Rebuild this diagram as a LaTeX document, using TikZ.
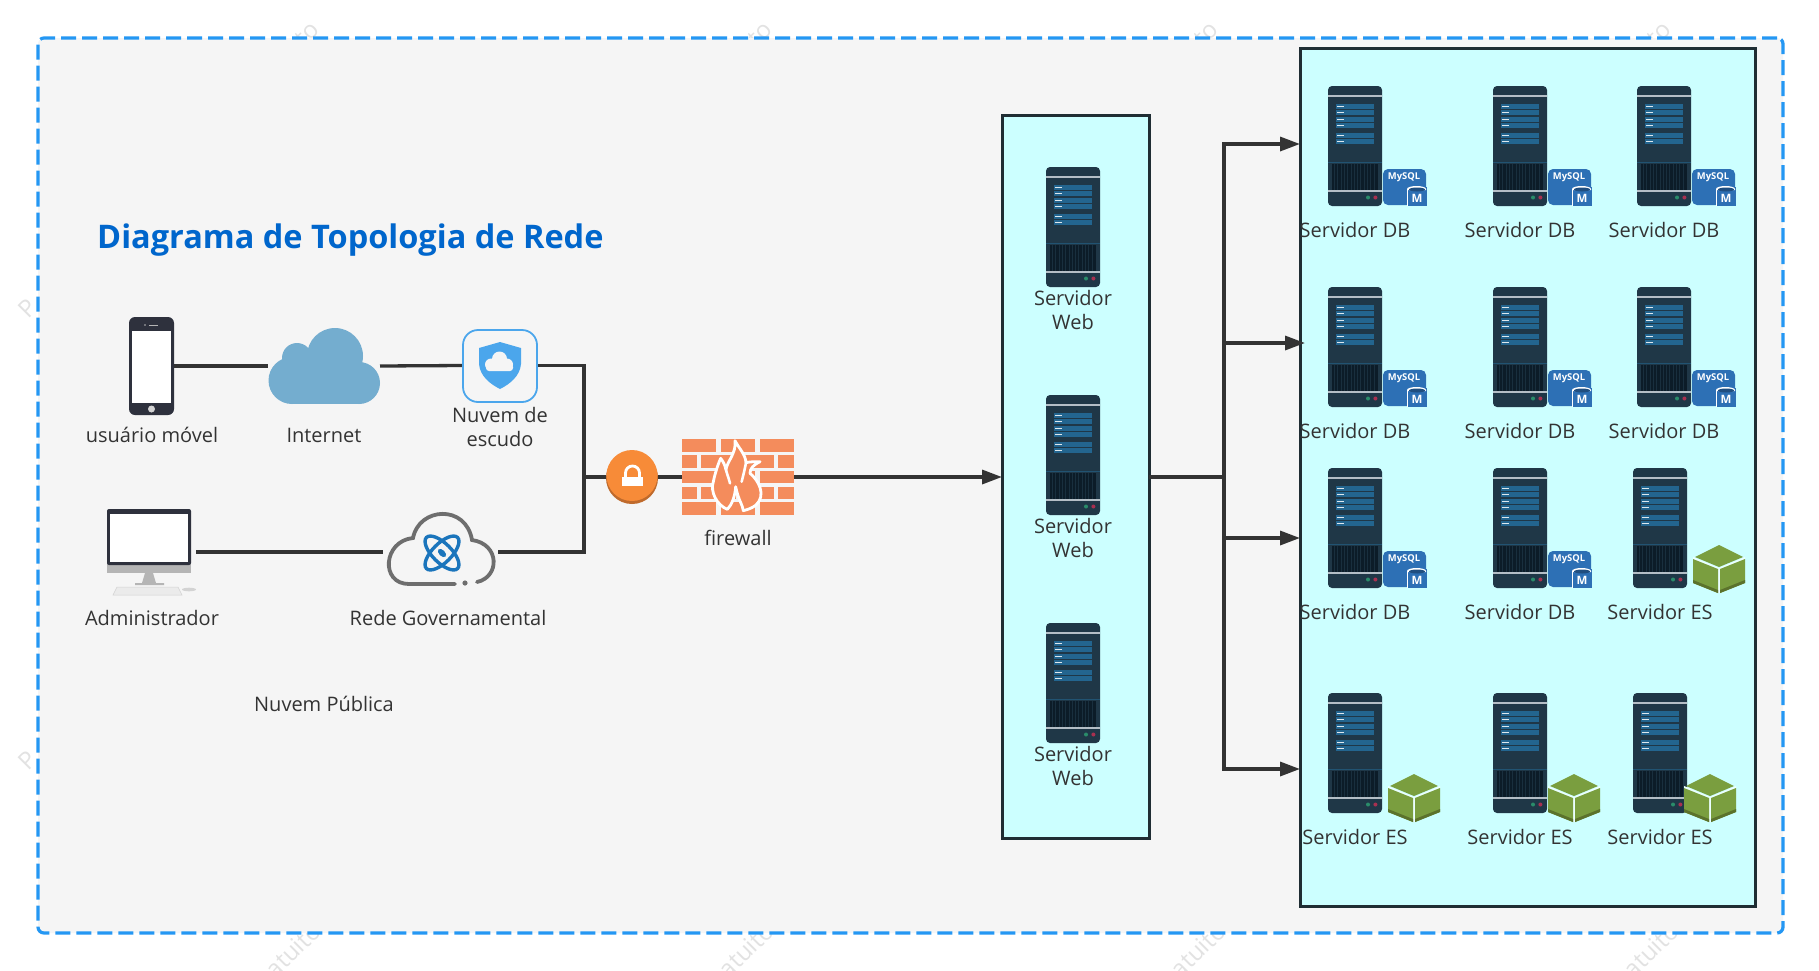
\documentclass[tikz,border=0pt]{standalone}
\usepackage{fontspec}
\setmainfont{Open Sans}
\usetikzlibrary{arrows.meta,calc}
\definecolor{txt}{HTML}{333333}
\definecolor{linec}{HTML}{333333}
\definecolor{panel}{HTML}{F5F5F5}
\definecolor{dashb}{HTML}{2497F3}
\definecolor{aqua}{HTML}{CCFFFF}
\definecolor{boxb}{HTML}{1F2D33}
\definecolor{srv}{HTML}{1F3747}
\definecolor{srvrow}{HTML}{23658F}
\definecolor{srvline}{HTML}{B4BEC6}
\definecolor{srvvent}{HTML}{0C1C28}
\definecolor{mysqlb}{HTML}{2D70B5}
\definecolor{cubeg}{HTML}{7A9E3F}
\definecolor{cubed}{HTML}{5B722C}
\definecolor{sky}{HTML}{74ADCF}
\definecolor{shieldb}{HTML}{4BA6EC}
\definecolor{devdark}{HTML}{2E313D}
\definecolor{devgrey}{HTML}{B5B5B5}
\definecolor{brick}{HTML}{F48C5C}
\definecolor{lockor}{HTML}{F78B38}
\definecolor{lockdk}{HTML}{BF6A2C}
\definecolor{atom}{HTML}{1B75BC}
\definecolor{cloudg}{HTML}{6E6E6E}
\definecolor{titleb}{HTML}{0066CC}
\definecolor{wmark}{HTML}{E2E2E2}
\definecolor{ledg}{HTML}{2A8C6A}
\definecolor{ledr}{HTML}{A83050}
\tikzset{
  x=1pt,y=-1pt,
  lab/.style={font=\fontsize{20}{24}\selectfont,text=txt,inner sep=0pt,align=center},
  wm/.style={font=\fontsize{24}{26}\selectfont,text=wmark,inner sep=0pt,rotate=45},
  conn/.style={draw=linec,line width=3.3pt},
  arrowc/.style={conn,-{Triangle[length=20pt,width=14pt,fill=linec]}},
  spot/.style={inner sep=0pt,outer sep=0pt,minimum width=#1},
  panelbox/.style={draw=boxb,fill=aqua,line width=3pt,inner sep=0pt,outer sep=0pt},
  panelwhite/.style={color=white!60!aqua},
  serverpic/.pic={
    \fill[srv,rounded corners=4pt] (0,0) rectangle (54,120);
    \draw[srvline,line width=1.4pt] (0,10) -- (54,10);
    \foreach \yy in {18,24,31,37,47,53}{
      \fill[srvrow] (8,\yy) rectangle (46,\yy+4.6);
      \draw[white!85!srvrow,line width=1pt] (9,\yy+2.3) -- (16,\yy+2.3);
    }
    \draw[srvrow!60!srv,line width=1pt] (0,76) -- (54,76);
    \fill[srvvent] (4,78) rectangle (50,104);
    \foreach \xx in {6.5,9.8,...,49}{\draw[srv!70!srvvent,line width=.9pt] (\xx,78) -- (\xx,104);}
    \draw[srvline,line width=1.4pt] (0,105) -- (54,105);
    \fill[ledg] (40,111.5) circle (2pt);
    \fill[ledr] (47.4,111.5) circle (2pt);
  },
  mysqlpic/.pic={
    \fill[mysqlb,rounded corners=5pt] (0,0) rectangle (43,36);
    \node[font=\bfseries\fontsize{9.4}{10}\selectfont,text=white,inner sep=0pt] at (21,8) {MySQL};
    \fill[mysqlb] (24,17.5) rectangle (44,37);
    \fill[white] (24,20) rectangle (25,37);
    \fill[white] (24,20) arc[start angle=180,end angle=0,x radius=9.5pt,y radius=3pt] -- (43,21) -- (24,21) -- cycle;
    \fill[mysqlb!70!black] (34,20.5) ellipse[x radius=8pt,y radius=2pt];
    \node[font=\bfseries\fontsize{11.5}{12}\selectfont,text=white,inner sep=0pt] at (34,29.5) {M};
  },
  cubepic/.pic={
    \fill[cubeg] (2,12) -- (26,0) -- (50,12) -- (26,22) -- cycle;
    \fill[panelwhite] (0,12) -- (26,23) -- (52,12) -- (52,15) -- (27,25) -- (27,48) -- (25,48) -- (25,25) -- (0,15) -- cycle;
    \fill[cubeg] (0,14) -- (25,24) -- (25,48) -- (0,38) -- cycle;
    \fill[cubeg] (52,14) -- (27,24) -- (27,48) -- (52,38) -- cycle;
    \fill[cubed] (0,35) -- (25,45) -- (25,48) -- (0,38) -- cycle;
    \fill[cubed] (52,35) -- (27,45) -- (27,48) -- (52,38) -- cycle;
  },
}
\newcommand{\dbserver}[4]{% name, x, y, label
  \pic at (#2,#3) {serverpic};
  \pic at (#2+55,#3+83) {mysqlpic};
  \node[lab] (#1) at (#2+27,#3+144) {#4};
}
\begin{document}
\begin{tikzpicture}
\useasboundingbox (0,0) rectangle (1819,970);
\fill[white] (0,0) rectangle (1819,970);
% watermark fragments, partly hidden by the panel
\node[wm] (wa) at (28,308) {P};
\node[wm] (wb) at (28,760) {P};
\node[wm] (wc) at (307,34) {to};
\node[wm] (wd) at (760,34) {to};
\node[wm] (we) at (1206,34) {to};
\node[wm] (wf) at (1659,34) {to};
\node[wm] (wg) at (293,950) {atuito};
\node[wm] (wh) at (746,950) {atuito};
\node[wm] (wi) at (1198,950) {atuito};
\node[wm] (wj) at (1651,950) {atuito};
% outer dashed region
\node[spot=1745pt,minimum height=895pt,draw=dashb,fill=panel,line width=3.2pt,dash pattern=on 15pt off 6pt,rounded corners=6pt,anchor=north west] (cloudzone) at (38,38) {};
% title
\node[font=\bfseries\fontsize{32.5}{36}\selectfont,text=titleb,inner sep=0pt,anchor=west] (title) at (97,240) {Diagrama de Topologia de Rede};
% panels
\node[panelbox,minimum width=147pt,minimum height=723pt,anchor=north west] (webzone) at (1002,115.5) {};
\node[panelbox,minimum width=455pt,minimum height=858pt,anchor=north west] (dbzone) at (1300,48) {};
% anchors for device nodes
\node[spot=45pt,minimum height=98pt] (phone) at (151.5,366) {};
\node[spot=112pt,minimum height=76pt] (inet) at (324,366) {};
\node[spot=76pt,minimum height=74pt] (shield) at (500,365.5) {};
\node[spot=89pt,minimum height=90pt] (admin) at (151.5,552) {};
\node[spot=115pt,minimum height=74pt] (gov) at (440.5,552) {};
\node[spot=52pt,minimum height=52pt] (lock) at (632,477) {};
\node[spot=112pt,minimum height=76pt] (fire) at (738,477) {};
\coordinate (busA) at (584,365.5);
\coordinate (busB) at (584,552);
\coordinate (busC) at (584,477);
\coordinate (trunk) at (1224,477);
\coordinate (t1) at (1300,144);
\coordinate (t2) at (1305,343);
\coordinate (t3) at (1300,538);
\coordinate (t4) at (1300,769);
% connectors
\draw[conn] (phone.east) -- (inet.west);
\draw[conn] (inet.east) -- (shield.west);
\draw[conn,line join=miter] (shield.east) -- (busA) -- (busB) -- (gov.east);
\draw[conn] (admin.east) -- (gov.west);
\draw[conn,line width=4pt] (busC) -- (lock.west);
\draw[conn,line width=4pt] (lock.east) -- (fire.west);
\draw[arrowc] (fire.east) -- (webzone.west);
\draw[arrowc] (webzone.east) -- (trunk) |- (t1);
\draw[arrowc] (webzone.east) -- (trunk) |- (t2);
\draw[arrowc] (webzone.east) -- (trunk) |- (t3);
\draw[arrowc] (webzone.east) -- (trunk) |- (t4);
\draw[conn,line width=4.2pt] (webzone.east) -- (trunk);
% phone
\fill[devdark,rounded corners=6pt] (129,317) rectangle (174,415);
\fill[white] (132,331) rectangle (171,403);
\fill[devgrey!60!white] (151.5,409) circle (3.5pt);
\draw[devgrey,line width=1pt] (149,325) -- (158,325);
\fill[devgrey] (145,325) circle (.8pt);
% internet cloud
\fill[sky] (292,380.5) circle (23.5pt) (359,383) circle (21pt) (335,356) circle (28pt) (297,358) circle (15pt);
\fill[sky] (292,372) rectangle (359,404);
\fill[sky] (300,355) rectangle (360,380);
% shield box
\draw[shieldb,fill=panel,line width=1.8pt,rounded corners=15pt] (463,330) rectangle (537,402);
\fill[shieldb] (500,342) -- (521,348) -- (521,364) .. controls (520,376) and (510,384) .. (500,389) .. controls (490,384) and (480,376) .. (479,364) -- (479,348) -- cycle;
\fill[panel] (491,364.5) circle (6pt) (499.5,359) circle (7.5pt) (507,364.5) circle (6pt);
\fill[panel,rounded corners=3pt] (486,364) rectangle (513,371);
% admin
\fill[devgrey] (107,560) rectangle (191,573);
\fill[devdark,rounded corners=2pt] (107,509) rectangle (191,565);
\fill[white] (110,514) rectangle (188,562);
\fill[devgrey] (145,573) -- (153,573) -- (156,583) -- (164,583) -- (164,585) -- (135,585) -- (135,583) -- (142,583) -- cycle;
\fill[white!92!black,draw=devgrey!60!white,line width=.5pt] (117,587) -- (178,587) -- (182,595) -- (113,595) -- cycle;
\fill[devgrey!60!white] (189,589.5) ellipse[x radius=7pt,y radius=1.8pt];
% gov cloud
\draw[cloudg,line width=3.8pt,line cap=round] (455,584) -- (409,584) .. controls (380,584) and (383,541) .. (413,538) .. controls (419,507) and (466,504) .. (472,540) .. controls (500,544) and (500,577) .. (477,582);
\fill[cloudg] (465,583) circle (2.6pt);
\begin{scope}[shift={(442,553)}]
  \draw[atom,line width=3.4pt,rotate=45] (0,0) ellipse[x radius=22pt,y radius=9.5pt];
  \draw[atom,line width=3.4pt,rotate=-45] (0,0) ellipse[x radius=22pt,y radius=9.5pt];
  \fill[atom,rotate=-45] (0,0) ellipse[x radius=5pt,y radius=3pt];
\end{scope}
% lock
\fill[lockdk] (632,478) circle (26pt);
\fill[lockor] (632,475.5) circle (25.5pt);
\fill[white] (622,477) rectangle (643,486);
\draw[white,line width=2.8pt] (625.5,478) -- (625.5,473) arc[start angle=180,end angle=0,radius=7pt] -- (639.5,478);
% firewall
\begin{scope}[shift={(570,420)},x=1pt/3,y=-1pt/3]
  \foreach \ya/\yb in {57/95,152/190,247/285}{
    \fill[brick] (336,\ya) rectangle (438,\yb);
    \fill[brick] (453,\ya) rectangle (555,\yb);
    \fill[brick] (570,\ya) rectangle (672,\yb);
  }
  \foreach \ya/\yb in {105/143,200/237}{
    \fill[brick] (336,\ya) rectangle (382,\yb);
    \fill[brick] (394,\ya) rectangle (498,\yb);
    \fill[brick] (510,\ya) rectangle (612,\yb);
    \fill[brick] (624,\ya) rectangle (672,\yb);
  }
  \draw[white,line width=2.8pt,fill=brick,line join=round] (495,62) .. controls (510,90) and (525,100) .. (528,128) .. controls (540,125) and (555,125) .. (570,125) .. controls (550,135) and (540,145) .. (540,160) .. controls (565,180) and (590,225) .. (558,255) .. controls (545,265) and (535,268) .. (520,272) .. controls (518,255) and (505,240) .. (497,200) .. controls (495,230) and (485,255) .. (472,268) .. controls (440,255) and (420,215) .. (430,185) .. controls (435,160) and (445,130) .. (452,115) .. controls (460,125) and (465,135) .. (468,150) .. controls (470,125) and (500,100) .. (495,62) -- cycle;
  \draw[white,line width=2.6pt,line cap=round] (468,150) .. controls (472,165) and (478,180) .. (480,190);
  \draw[white,line width=2.6pt,line cap=round] (528,128) .. controls (525,145) and (520,165) .. (515,185);
\end{scope}
% servers
\pic at (1046,167) {serverpic};
\pic at (1046,395) {serverpic};
\pic at (1046,623) {serverpic};
\node[lab] (w1) at (1073,310) {Servidor\\Web};
\node[lab] (w2) at (1073,538) {Servidor\\Web};
\node[lab] (w3) at (1073,766) {Servidor\\Web};
\dbserver{d11}{1328}{86}{Servidor DB}
\dbserver{d12}{1493}{86}{Servidor DB}
\dbserver{d13}{1637}{86}{Servidor DB}
\dbserver{d21}{1328}{287}{Servidor DB}
\dbserver{d22}{1493}{287}{Servidor DB}
\dbserver{d23}{1637}{287}{Servidor DB}
\dbserver{d31}{1328}{468}{Servidor DB}
\dbserver{d32}{1493}{468}{Servidor DB}
\pic at (1633,468) {serverpic};
\pic at (1693,545) {cubepic};
\node[lab] (e33) at (1660,612) {Servidor ES};
\pic at (1328,693) {serverpic};
\pic at (1388,774) {cubepic};
\node[lab] (e41) at (1355,837) {Servidor ES};
\pic at (1493,693) {serverpic};
\pic at (1548,774) {cubepic};
\node[lab] (e42) at (1520,837) {Servidor ES};
\pic at (1633,693) {serverpic};
\pic at (1684,774) {cubepic};
\node[lab] (e43) at (1660,837) {Servidor ES};
% labels
\node[lab] (lphone) at (152,435) {usuário móvel};
\node[lab] (linet) at (324,435) {Internet};
\node[lab] (lshield) at (500,427) {Nuvem de\\escudo};
\node[lab] (ladmin) at (152,618) {Administrador};
\node[lab] (lgov) at (448,618) {Rede Governamental};
\node[lab] (lfire) at (738,538) {firewall};
\node[lab] (lpub) at (324,704) {Nuvem Pública};
\end{tikzpicture}
\end{document}
